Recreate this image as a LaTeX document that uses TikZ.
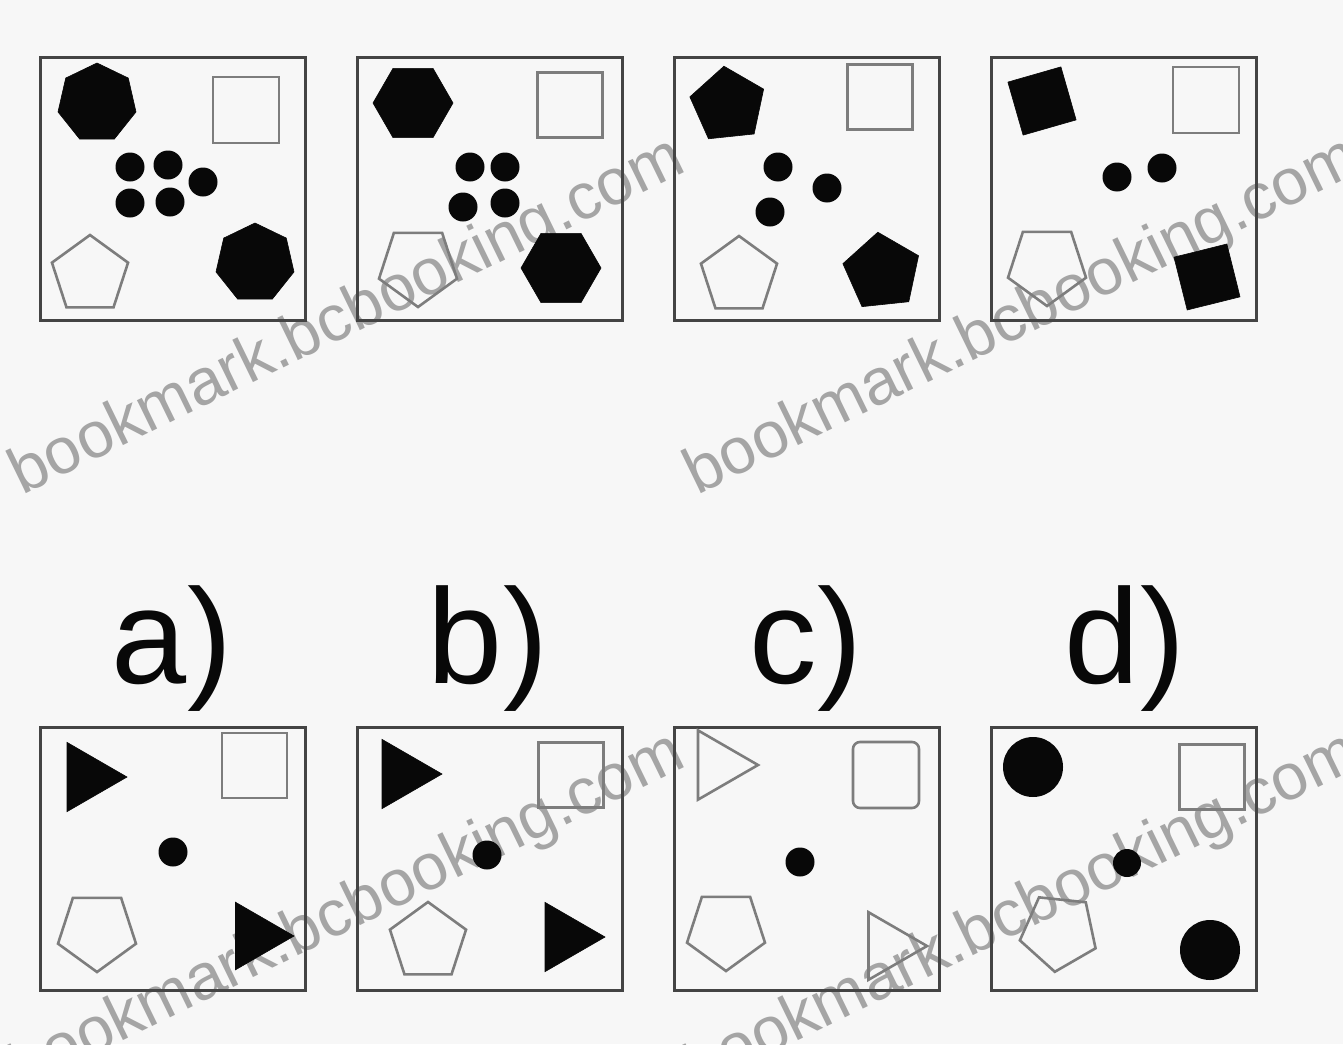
\documentclass[tikz,border=0pt]{standalone}
\usepackage{fontspec}
\newfontfamily\labfont{Liberation Sans}
\usetikzlibrary{shapes.geometric}
\definecolor{bgc}{RGB}{247,247,247}
\definecolor{framec}{RGB}{68,68,68}
\definecolor{outc}{RGB}{125,125,125}
\definecolor{wmc}{RGB}{165,165,165}
\definecolor{ink}{RGB}{8,8,8}
\tikzset{
  panel/.style={draw=framec, line width=3pt, rectangle, minimum width=265pt, minimum height=263pt, inner sep=0pt, outer sep=0pt},
  solidpoly/.style={regular polygon, regular polygon sides=#1, fill=ink, draw=ink, line width=0.6pt, inner sep=0pt, outer sep=0pt},
  hollowpoly/.style={regular polygon, regular polygon sides=#1, draw=outc, line width=2.6pt, inner sep=0pt, outer sep=0pt},
  hsq/.style={rectangle, draw=outc, line width=2.6pt, minimum size=65pt, inner sep=0pt, outer sep=0pt},
  dot/.style={circle, fill=ink, minimum size=29pt, inner sep=0pt, outer sep=0pt},
  bigdot/.style={circle, fill=ink, minimum size=60pt, inner sep=0pt, outer sep=0pt},
  optlabel/.style={anchor=base, inner sep=0pt, text=ink, font=\labfont\fontsize{135}{135}\selectfont},
  wm/.style={anchor=base, inner sep=0pt, text=wmc, rotate=26, font=\labfont\fontsize{65}{65}\selectfont}
}
\begin{document}
\begin{tikzpicture}[x=1pt,y=-1pt]
\useasboundingbox (0,0) rectangle (1343,1044);
\fill[bgc] (0,0) rectangle (1343,1044);

% watermarks
\node[wm] (w1) at (355,333) {bookmark.bcbooking.com};
\node[wm] (w2) at (1030,333) {bookmark.bcbooking.com};
\node[wm] (w3) at (355,928) {bookmark.bcbooking.com};
\node[wm] (w4) at (1030,928) {bookmark.bcbooking.com};

% top row panels
\node[panel] (t1) at (172.5,188.5) {};
\node[panel] (t2) at (489.5,188.5) {};
\node[panel] (t3) at (806.5,188.5) {};
\node[panel] (t4) at (1123.5,188.5) {};

% panel 1
\node[solidpoly=7, minimum size=80pt] (t1a) at (97,103) {};
\node[hsq, minimum size=66pt] (t1b) at (246,110) {};
\node[dot] (t1c) at (130,167) {};
\node[dot] (t1d) at (168,165) {};
\node[dot] (t1e) at (203,182) {};
\node[dot] (t1f) at (130,203) {};
\node[dot] (t1g) at (170,202) {};
\node[hollowpoly=5, minimum size=80pt] (t1h) at (90,275) {};
\node[solidpoly=7, minimum size=80pt] (t1i) at (255,263) {};

% panel 2
\node[solidpoly=6, minimum size=80pt] (t2a) at (413,103) {};
\node[hsq] (t2b) at (570,105) {};
\node[dot] (t2c) at (470,167) {};
\node[dot] (t2d) at (505,167) {};
\node[dot] (t2e) at (463,207) {};
\node[dot] (t2f) at (505,203) {};
\node[hollowpoly=5, minimum size=82pt, shape border rotate=180] (t2g) at (418,266) {};
\node[solidpoly=6, minimum size=80pt] (t2h) at (561,268) {};

% panel 3
\node[solidpoly=5, minimum size=78pt, shape border rotate=6] (t3a) at (728,105) {};
\node[hsq] (t3b) at (880,97) {};
\node[dot] (t3c) at (778,167) {};
\node[dot] (t3d) at (827,188) {};
\node[dot] (t3e) at (770,212) {};
\node[hollowpoly=5, minimum size=80pt] (t3f) at (739,276) {};
\node[solidpoly=5, minimum size=80pt, shape border rotate=6] (t3g) at (882,272) {};

% panel 4
\node[solidpoly=4, minimum size=78pt, shape border rotate=16] (t4a) at (1042,101) {};
\node[hsq, minimum size=66pt] (t4b) at (1206,100) {};
\node[dot] (t4c) at (1117,177) {};
\node[dot] (t4d) at (1162,168) {};
\node[hollowpoly=5, minimum size=82pt, shape border rotate=180] (t4e) at (1047,265) {};
\node[solidpoly=4, minimum size=77pt, shape border rotate=14] (t4f) at (1207,277) {};

% labels
\node[optlabel] (la) at (172,683) {a)};
\node[optlabel] (lb) at (488,683) {b)};
\node[optlabel] (lc) at (806,683) {c)};
\node[optlabel] (ld) at (1125,683) {d)};

% bottom row panels
\node[panel] (b1) at (172.5,858.5) {};
\node[panel] (b2) at (489.5,858.5) {};
\node[panel] (b3) at (806.5,858.5) {};
\node[panel] (b4) at (1123.5,858.5) {};

% option a
\node[solidpoly=3, minimum size=80pt, shape border rotate=-90] (b1a) at (87,777) {};
\node[hsq] (b1b) at (254.5,765.5) {};
\node[dot] (b1c) at (173,852) {};
\node[hollowpoly=5, minimum size=82pt, shape border rotate=180] (b1d) at (97,931) {};
\node[solidpoly=3, minimum size=78pt, shape border rotate=-90] (b1e) at (255,936) {};

% option b
\node[solidpoly=3, minimum size=80pt, shape border rotate=-90] (b2a) at (402,774) {};
\node[hsq] (b2b) at (571,775) {};
\node[dot] (b2c) at (487,855) {};
\node[hollowpoly=5, minimum size=80pt] (b2d) at (428,942) {};
\node[solidpoly=3, minimum size=80pt, shape border rotate=-90] (b2e) at (565,937) {};

% option c
\node[hollowpoly=3, minimum size=80pt, shape border rotate=-90] (b3a) at (718,765) {};
\node[hsq, minimum size=66pt, rounded corners=7pt] (b3b) at (886,775) {};
\node[dot] (b3c) at (800,862) {};
\node[hollowpoly=5, minimum size=82pt, shape border rotate=180] (b3d) at (726,930) {};
\node[hollowpoly=3, minimum size=78pt, shape border rotate=-90] (b3e) at (888,946) {};

% option d
\node[bigdot] (b4a) at (1033,767) {};
\node[hsq] (b4b) at (1212,777) {};
\node[dot, minimum size=28pt] (b4c) at (1127,863) {};
\node[hollowpoly=5, minimum size=80pt, shape border rotate=174] (b4d) at (1059,932) {};
\node[bigdot] (b4e) at (1210,950) {};
\end{tikzpicture}
\end{document}
